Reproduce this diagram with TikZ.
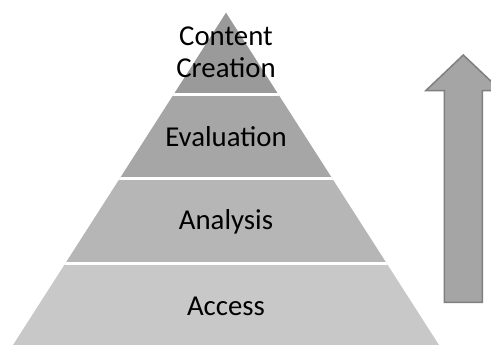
\documentclass[tikz,border=0pt]{standalone}
\usepackage{fontspec}
\setmainfont{Carlito}
\begin{document}
\begin{tikzpicture}[x=1pt,y=-1pt,
  layertext/.style={font=\fontsize{28.8}{31.7}\selectfont, text=black, align=center, inner sep=0pt},
  band/.style={draw=white, line width=3.2pt}]
\useasboundingbox (0,0) rectangle (491,345);
\clip (0,0) rectangle (491,345);
\definecolor{lvlA}{HTML}{C8C8C8}
\definecolor{lvlB}{HTML}{B6B6B6}
\definecolor{lvlC}{HTML}{A6A6A6}
\definecolor{lvlD}{HTML}{9A9A9A}
\definecolor{arrowfill}{HTML}{A5A5A5}
\definecolor{arrowline}{HTML}{7F7F7F}

% pyramid, filled band by band inside the triangle outline
\begin{scope}
  \clip (226,12.7) -- (13,345) -- (439,345) -- cycle;
  \fill[lvlD] (0,0) rectangle (491,94.2);
  \fill[lvlC] (0,94.2) rectangle (491,178.4);
  \fill[lvlB] (0,178.4) rectangle (491,263.3);
  \fill[lvlA] (0,263.3) rectangle (491,345);
  \draw[band] (0,94.2) -- (491,94.2);
  \draw[band] (0,178.4) -- (491,178.4);
  \draw[band] (0,263.3) -- (491,263.3);
\end{scope}

% level labels
\node[layertext] (creation) at (226,52.5) {Content\\Creation};
\node[layertext] (evaluation) at (226,136.5) {Evaluation};
\node[layertext] (analysis) at (226,221.5) {Analysis};
\node[layertext] (access) at (226,306) {Access};

% upward block arrow
\draw[fill=arrowfill, draw=arrowline, line width=1.5pt, line join=miter]
  (444.3,302.3) -- (444.3,90.7) -- (425.7,90.7) -- (463.3,55)
  -- (501,90.7) -- (482.3,90.7) -- (482.3,302.3) -- cycle;
\end{tikzpicture}
\end{document}
